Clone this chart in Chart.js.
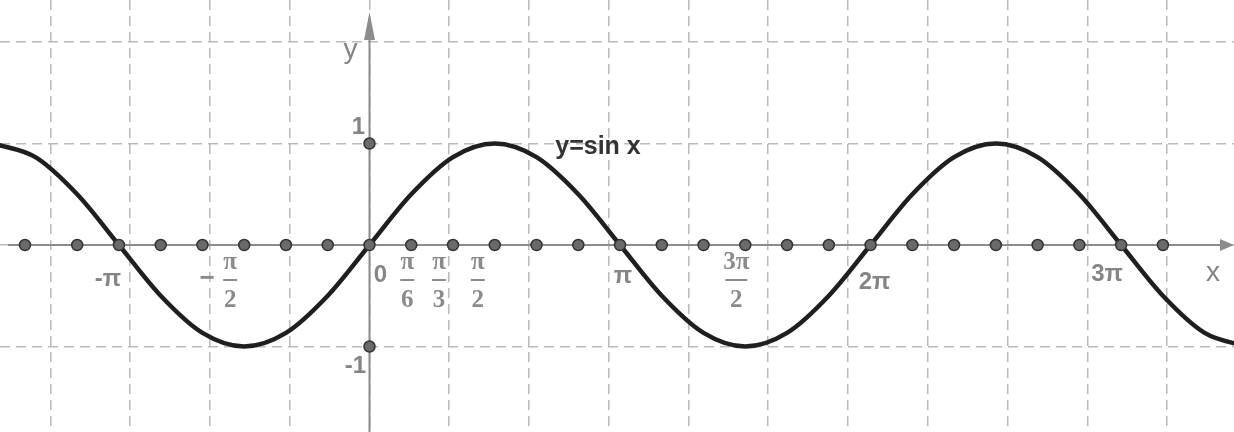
<!DOCTYPE html>
<html>
<head>
<meta charset="utf-8">
<script src="https://cdn.jsdelivr.net/npm/chart.js@4/dist/chart.umd.min.js"></script>
<style>
    html, body { margin: 0; padding: 0; background: #fff; }
    #wrap { width: 1234px; height: 432px; }
</style>
</head>
<body>
<div id="wrap"><canvas id="sinChart" width="1234" height="432"></canvas></div>
<script>

// x positions are counted in steps of π/6
const curveSteps = [-9, -8, -7, -6, -5, -4, -3, -2, -1, 0, 1, 2, 3, 4, 5, 6, 7, 8, 9, 10,
    11, 12, 13, 14, 15, 16, 17, 18, 19, 20, 21];
const curveValues = [1, 0.866, 0.5, 0, -0.5, -0.866, -1, -0.866, -0.5, 0, 0.5, 0.866, 1, 0.866, 0.5, 0,
    -0.5, -0.866, -1, -0.866, -0.5, 0, 0.5, 0.866, 1, 0.866, 0.5, 0, -0.5, -0.866, -1];

const markSteps = [-8.25, -7, -6, -5, -4, -3, -2, -1, 0, 1, 2, 3, 4, 5, 6, 7, 8, 9, 10,
    11, 12, 13, 14, 15, 16, 17, 18, 19];
const yAxisMarks = [1, -1];

const xGridLines = [-4, -3, -2, -1, 0, 1, 2, 3, 4, 5, 6, 7, 8, 9, 10];
const yGridLines = [-1, 0, 1, 2];

const piTickLabels = ['-π', 'π', '2π', '3π'];
const piTickSteps = [-6, 6, 12, 18];

const fracTickSigns = ['−', '', '', '', ''];
const fracTickNums = ['π', 'π', 'π', 'π', '3π'];
const fracTickDens = ['2', '6', '3', '2', '2'];
const fracTickSteps = [-3, 1, 2, 3, 9];

const curveTitle = 'y=sin x';

const STEP = Math.PI / 6;
const toX = k => k * STEP;

// label nudges in pixels, same order as the label arrays
const piNudge = [[-11, 34], [3, 31], [4, 37], [-14, 29]];
const fracNudge = [-14, -4, -14, -17, -9];

const axisColor = '#8c8c8c';
const labelColor = '#858585';
const sansFont = '"Liberation Sans", Arial, sans-serif';
const serifFont = '"Liberation Serif", "Times New Roman", serif';

function arrow(ctx, tipX, tipY, dir, len, half) {
    ctx.beginPath();
    if (dir === 'up') {
        ctx.moveTo(tipX, tipY);
        ctx.lineTo(tipX - half, tipY + len);
        ctx.lineTo(tipX + half, tipY + len);
    } else {
        ctx.moveTo(tipX, tipY);
        ctx.lineTo(tipX - len, tipY - half);
        ctx.lineTo(tipX - len, tipY + half);
    }
    ctx.closePath();
    ctx.fill();
}

const axesPlugin = {
    id: 'axesPlugin',
    beforeDatasetsDraw(chart) {
        const { ctx, scales: { x, y }, width, height } = chart;
        const ox = x.getPixelForValue(0);
        const oy = y.getPixelForValue(0);
        ctx.save();
        ctx.strokeStyle = axisColor;
        ctx.fillStyle = axisColor;
        ctx.lineWidth = 2;
        ctx.beginPath();
        ctx.moveTo(8, oy);
        ctx.lineTo(width - 10, oy);
        ctx.moveTo(ox, height);
        ctx.lineTo(ox, 30);
        ctx.stroke();
        arrow(ctx, ox, 12, 'up', 28, 5.5);
        arrow(ctx, width, oy, 'right', 14, 6);
        ctx.restore();
    },
    afterDatasetsDraw(chart) {
        const { ctx, scales: { x, y } } = chart;
        const ox = x.getPixelForValue(0);
        const oy = y.getPixelForValue(0);
        ctx.save();
        ctx.textAlign = 'center';
        ctx.textBaseline = 'middle';

        ctx.fillStyle = labelColor;
        ctx.font = 'bold 24px ' + sansFont;
        piTickLabels.forEach((t, i) => {
            const px = x.getPixelForValue(toX(piTickSteps[i]));
            ctx.fillText(t, px + piNudge[i][0], oy + piNudge[i][1]);
        });
        ctx.fillText('0', ox + 11, oy + 30);
        ctx.fillText('1', ox - 11, y.getPixelForValue(1) - 16);
        ctx.fillText('-1', ox - 14, y.getPixelForValue(-1) + 20);
        ctx.font = '28px ' + sansFont;
        ctx.fillText('y', ox - 19, 50);
        ctx.fillText('x', x.getPixelForValue(x.max) - 21, oy + 28);

        // fraction labels under the axis
        ctx.fillStyle = '#8a8a8a';
        ctx.strokeStyle = '#8a8a8a';
        ctx.lineWidth = 2;
        fracTickSteps.forEach((k, i) => {
            const cx = x.getPixelForValue(toX(k)) + fracNudge[i];
            ctx.font = 'bold 25px ' + serifFont;
            ctx.fillText(fracTickNums[i], cx, oy + 18);
            ctx.fillText(fracTickDens[i], cx, oy + 56);
            const w = fracTickNums[i].length > 1 ? 11 : 7;
            ctx.beginPath();
            ctx.moveTo(cx - w, oy + 35);
            ctx.lineTo(cx + w, oy + 35);
            ctx.stroke();
            if (fracTickSigns[i]) {
                ctx.font = 'bold 26px ' + sansFont;
                ctx.fillText(fracTickSigns[i], cx - 23, oy + 34);
            }
        });

        ctx.fillStyle = '#333';
        ctx.font = 'bold 25px ' + sansFont;
        ctx.fillText(curveTitle, x.getPixelForValue(2.865), y.getPixelForValue(0.966));
        ctx.restore();
    }
};

new Chart('sinChart', {
    type: 'line',
    data: {
        datasets: [
            {
                // marks along the x axis and on the y axis
                data: markSteps.map(k => ({ x: toX(k), y: 0 }))
                    .concat(yAxisMarks.map(v => ({ x: 0, y: v }))),
                showLine: false,
                pointRadius: 5.5,
                pointBackgroundColor: '#6a6a6a',
                pointBorderColor: '#333',
                pointBorderWidth: 1.5,
                clip: false,
                order: 0
            },
            {
                data: curveSteps.map((k, i) => ({ x: toX(k), y: curveValues[i] })),
                borderColor: '#1f1f1f',
                borderWidth: 4.5,
                pointRadius: 0,
                fill: false,
                cubicInterpolationMode: 'monotone',
                order: 1
            }
        ]
    },
    options: {
        responsive: false,
        animation: false,
        devicePixelRatio: 1,
        layout: { padding: 0, autoPadding: false },
        plugins: {
            legend: { display: false },
            tooltip: { enabled: false }
        },
        scales: {
            x: {
                type: 'linear',
                min: -4.633,
                max: 10.84,
                afterBuildTicks: s => { s.ticks = xGridLines.map(v => ({ value: v })); },
                ticks: { display: false, padding: 0 },
                grid: { color: '#bababa', lineWidth: 1.5, drawTicks: false, tickLength: 0 },
                border: { display: false, dash: [10, 6] }
            },
            y: {
                type: 'linear',
                min: -1.842,
                max: 2.414,
                afterBuildTicks: s => { s.ticks = yGridLines.map(v => ({ value: v })); },
                ticks: { display: false, padding: 0 },
                grid: { color: '#bababa', lineWidth: 1.5, drawTicks: false, tickLength: 0 },
                border: { display: false, dash: [10, 6] }
            }
        }
    },
    plugins: [axesPlugin]
});
</script>
</body>
</html>
